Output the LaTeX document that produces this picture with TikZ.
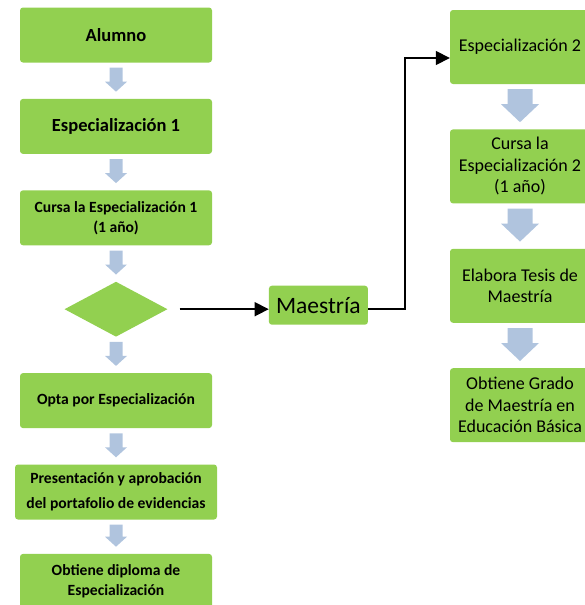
\documentclass[tikz,border=0pt]{standalone}
\usepackage{fontspec}
\setmainfont{Carlito}
\usetikzlibrary{calc}
\usetikzlibrary{positioning}
\usetikzlibrary{chains,shapes.geometric,arrows.meta}
\definecolor{cajaverde}{RGB}{146,208,80}
\definecolor{flechaazul}{RGB}{176,196,222}
\tikzset{
  caja/.style={fill=cajaverde, rounded corners=3pt, align=center, inner sep=2pt},
  cajaIzq/.style={caja, minimum width=192pt, minimum height=55pt,
    font=\bfseries\fontsize{15.6}{20}\selectfont},
  cajaDer/.style={caja, minimum width=140pt, minimum height=74pt,
    font=\fontsize{18}{21.5}\selectfont},
  conector/.style={line width=1.6pt, -{Triangle[length=14pt,width=14pt]}}
}
% flecha de bloque entre dos cajas: arriba, abajo, medio ancho, medio ancho punta, largo punta
\newcommand{\flechaBloque}[5]{
  \fill[flechaazul]
  ($(#1.south)+(-#3,-5pt)$) -- ($(#1.south)+(#3,-5pt)$)
  -- ($(#1.south |- #2.north)+(#3,#5+7pt)$) -- ($(#1.south |- #2.north)+(#4,#5+7pt)$)
  -- ($(#1.south |- #2.north)+(0pt,7pt)$)
  -- ($(#1.south |- #2.north)+(-#4,#5+7pt)$) -- ($(#1.south |- #2.north)+(-#3,#5+7pt)$) -- cycle;
}

\begin{document}
\begin{tikzpicture}[x=1pt, y=-1pt]
  \useasboundingbox (0,0) rectangle (585,605);

  % columna de la especialidad
  \begin{scope}[start chain=izq going below, node distance=36pt]
    \node [on chain=izq, cajaIzq, font=\bfseries\fontsize{18.5}{22}\selectfont] (alumno) at (116,35) {Alumno};
    \node [on chain=izq, cajaIzq, font=\bfseries\fontsize{18.5}{22}\selectfont] (espUno) {Especialización 1};
    \node [on chain=izq, cajaIzq] (cursaUno) {Cursa la Especialización 1\\(1 año)};
    \node [on chain=izq, diamond, fill=cajaverde, inner sep=0pt,
      minimum width=103pt, minimum height=55pt] (rombo) {};
    \node [on chain=izq, cajaIzq] (opta) {Opta por Especialización};
    \node [on chain=izq, cajaIzq, minimum width=202pt] (portafolio)
      {Presentación y aprobación\\[5pt]del portafolio de evidencias};
    \node [on chain=izq, cajaIzq, yshift=2pt] (diploma) {Obtiene diploma de\\Especialización};
  \end{scope}

  \flechaBloque{alumno}{espUno}{6.5pt}{11pt}{10pt}
  \flechaBloque{espUno}{cursaUno}{6.5pt}{11pt}{10pt}
  \flechaBloque{cursaUno}{rombo}{6.5pt}{11pt}{10pt}
  \flechaBloque{rombo}{opta}{6.5pt}{11pt}{10pt}
  \flechaBloque{opta}{portafolio}{6.5pt}{11pt}{10pt}
  \flechaBloque{portafolio}{diploma}{6.5pt}{11pt}{10pt}

  % columna de la maestria
  \begin{scope}[start chain=der going below, node distance=45pt]
    \node [on chain=der, cajaDer] (espDos) at (520,47) {Especialización 2};
    \node [on chain=der, cajaDer] (cursaDos) {Cursa la\\Especialización 2\\(1 año)};
    \node [on chain=der, cajaDer] (tesis) {Elabora Tesis de\\Maestría};
    \node [on chain=der, cajaDer] (grado) {Obtiene Grado\\de Maestría en\\Educación Básica};
  \end{scope}

  \flechaBloque{espDos}{cursaDos}{12.5pt}{19pt}{18pt}
  \flechaBloque{cursaDos}{tesis}{12.5pt}{19pt}{18pt}
  \flechaBloque{tesis}{grado}{12.5pt}{19pt}{18pt}

  \node [caja, right=101pt of rombo, yshift=4pt, minimum width=99pt, minimum height=39pt,
    font=\fontsize{23.5}{26}\selectfont] (maestria) {Maestría};

  \coordinate (codo) at ($(espDos.west)+(0pt,-11pt)$);
  \draw [conector, shorten <=12pt] (rombo.east) -- (rombo.east -| maestria.west);
  \draw [conector] (rombo.east -| maestria.east) -- ++(37pt,0pt) |- (codo);
\end{tikzpicture}
\end{document}
